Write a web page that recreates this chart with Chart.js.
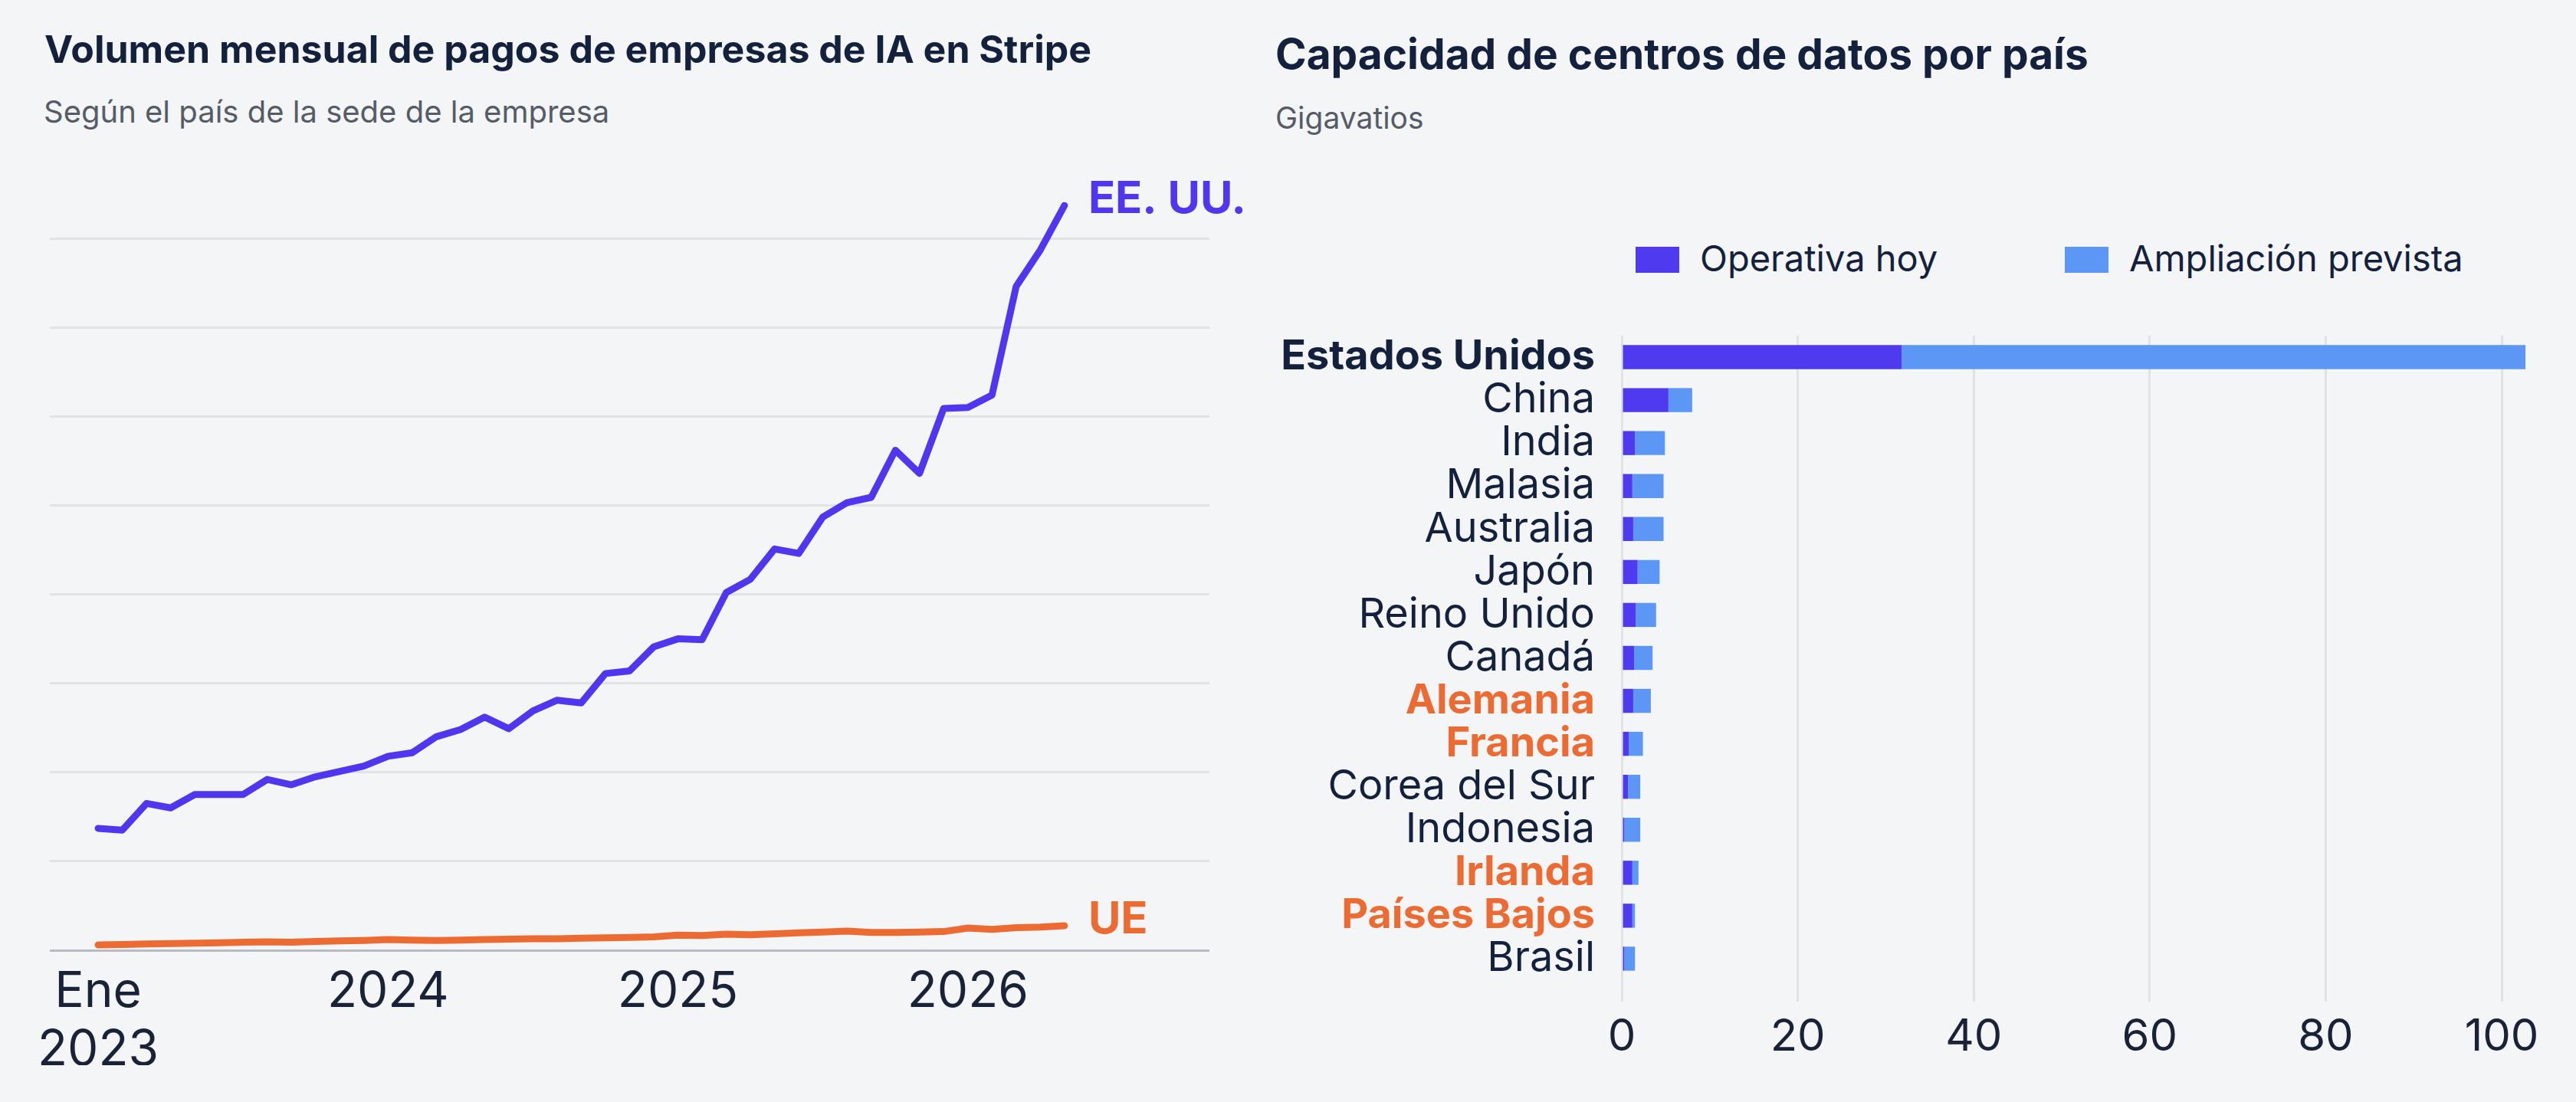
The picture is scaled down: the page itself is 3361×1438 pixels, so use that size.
<!DOCTYPE html>
<html lang="es">
<head>
<meta charset="utf-8">
<script src="https://cdn.jsdelivr.net/npm/chart.js@4.4.1/dist/chart.umd.min.js"></script>
<style>
  html, body { margin: 0; padding: 0; background: #f4f5f7; }
  body { width: 3361px; height: 1438px; position: relative; overflow: hidden; font-family: Inter, "Noto Sans", sans-serif; }
  .t { position: absolute; white-space: nowrap; line-height: 1; }
  .titulo { font-weight: 700; color: #14213d; }
  .sub { color: #565c66; }
  .caja { position: absolute; width: 57px; height: 34px; }
  canvas { position: absolute; top: 0; }
</style>
</head>
<body>
<div class="t titulo" style="left:58px; top:39px; font-size:50px;">Volumen mensual de pagos de empresas de IA en Stripe</div>
<div class="t sub" style="left:57px; top:126px; font-size:40px;">Según el país de la sede de la empresa</div>

<div class="t titulo" style="left:1664px; top:43px; font-size:55px;">Capacidad de centros de datos por país</div>
<div class="t sub" style="left:1664px; top:134px; font-size:39px;">Gigavatios</div>

<div id="leyenda"></div>

<canvas id="lineas" width="1640" height="1438" style="left:0;"></canvas>
<canvas id="barras" width="1721" height="1438" style="left:1640px;"></canvas>

<script>
// ---- grafico de la izquierda: volumen mensual (Ene 2023 - May 2026) ----
const etiquetasEje = [['Ene', '2023'], '2024', '2025', '2026'];
const posicionesEje = [0, 12, 24, 36];

const volumenEEUU = [
  1.37, 1.35, 1.65, 1.60, 1.75, 1.75, 1.75, 1.92, 1.86, 1.95, 2.01, 2.07,
  2.18, 2.22, 2.40, 2.48, 2.62, 2.49, 2.69, 2.81, 2.78, 3.11, 3.14, 3.41,
  3.50, 3.49, 4.02, 4.17, 4.51, 4.46, 4.87, 5.03, 5.09, 5.62, 5.36, 6.09,
  6.10, 6.24, 7.46, 7.87, 8.37
];
const volumenUE = [
  0.06, 0.065, 0.07, 0.075, 0.08, 0.085, 0.09, 0.095, 0.09, 0.10, 0.105, 0.11,
  0.12, 0.115, 0.11, 0.115, 0.12, 0.125, 0.13, 0.13, 0.135, 0.14, 0.145, 0.15,
  0.17, 0.165, 0.18, 0.175, 0.185, 0.195, 0.205, 0.215, 0.20, 0.20, 0.205, 0.21,
  0.25, 0.235, 0.255, 0.26, 0.275
];

// ---- grafico de la derecha: capacidad por pais ----
const paises = ['Estados Unidos', 'China', 'India', 'Malasia', 'Australia', 'Japón', 'Reino Unido',
  'Canadá', 'Alemania', 'Francia', 'Corea del Sur', 'Indonesia', 'Irlanda', 'Países Bajos', 'Brasil'];
const operativaHoy = [31.8, 5.3, 1.5, 1.2, 1.3, 1.8, 1.6, 1.4, 1.3, 0.8, 0.7, 0.3, 1.2, 1.2, 0.3];
const ampliacionPrevista = [70.9, 2.7, 3.4, 3.55, 3.45, 2.5, 2.3, 2.1, 2.0, 1.6, 1.4, 1.8, 0.7, 0.3, 1.2];
const ticksCapacidad = [0, 20, 40, 60, 80, 100];
const nombresSeries = ['Operativa hoy', 'Ampliación prevista'];
const coloresSeries = ['#4f3af0', '#5c97f6'];
const paisesNegrita = ['Estados Unidos'];
const paisesUE = ['Alemania', 'Francia', 'Irlanda', 'Países Bajos'];

const azul = '#5036ee';
const naranja = '#ec6b33';
const textoOscuro = '#14213d';

// nombre al final de cada linea
const etiquetasFinales = {
  id: 'etiquetasFinales',
  afterDatasetsDraw(chart) {
    const ctx = chart.ctx;
    chart.data.datasets.forEach((ds, i) => {
      const meta = chart.getDatasetMeta(i);
      const p = meta.data[meta.data.length - 1];
      ctx.save();
      ctx.font = '700 58px Inter';
      ctx.fillStyle = ds.borderColor;
      ctx.textBaseline = 'middle';
      ctx.fillText(ds.label, p.x + 31, p.y - 8);
      ctx.restore();
    });
  }
};

new Chart(document.getElementById('lineas').getContext('2d'), {
  type: 'line',
  data: {
    datasets: [
      { label: 'EE. UU.', data: volumenEEUU.map((v, i) => ({ x: i, y: v })), borderColor: azul },
      { label: 'UE', data: volumenUE.map((v, i) => ({ x: i, y: v })), borderColor: naranja }
    ]
  },
  options: {
    responsive: false,
    animation: false,
    layout: { padding: { left: 65, right: 62, top: 195, bottom: 48 } },
    elements: {
      line: { borderWidth: 9, tension: 0, borderJoinStyle: 'round', borderCapStyle: 'round' },
      point: { radius: 0 }
    },
    plugins: { legend: { display: false }, tooltip: { enabled: false } },
    scales: {
      x: {
        type: 'linear', min: -2, max: 46,
        afterBuildTicks: s => { s.ticks = posicionesEje.map(v => ({ value: v })); },
        afterFit: s => { s.height = 150; },
        grid: { display: false },
        border: { display: false },
        ticks: {
          autoSkip: false, maxRotation: 0, padding: 8,
          color: '#1a2238', font: { family: 'Inter', size: 64 },
          callback: (v, i) => etiquetasEje[i]
        }
      },
      y: {
        min: 0, max: 9,
        afterBuildTicks: s => { s.ticks = s.ticks.filter(t => t.value <= 8); },
        afterFit: s => { s.width = 0; },
        border: { display: false },
        grid: {
          drawTicks: false, lineWidth: 3,
          color: c => c.tick && c.tick.value === 0 ? '#b8bbc1' : '#e0e2e6'
        },
        ticks: { display: false, stepSize: 1 }
      }
    }
  },
  plugins: [etiquetasFinales]
});

// leyenda en HTML
const leyenda = document.getElementById('leyenda');
const posLeyenda = [2134, 2694];
nombresSeries.forEach((n, i) => {
  const c = document.createElement('div');
  c.className = 'caja';
  c.style.left = posLeyenda[i] + 'px';
  c.style.top = '322px';
  c.style.background = coloresSeries[i];
  leyenda.appendChild(c);
  const t = document.createElement('div');
  t.className = 't';
  t.style.left = (posLeyenda[i] + 84) + 'px';
  t.style.top = '313px';
  t.style.fontSize = '47px';
  t.style.color = textoOscuro;
  t.textContent = n;
  leyenda.appendChild(t);
});

new Chart(document.getElementById('barras').getContext('2d'), {
  type: 'bar',
  data: {
    labels: paises,
    datasets: [
      { label: nombresSeries[0], data: operativaHoy, backgroundColor: coloresSeries[0] },
      { label: nombresSeries[1], data: ampliacionPrevista, backgroundColor: coloresSeries[1] }
    ]
  },
  options: {
    indexAxis: 'y',
    responsive: false,
    animation: false,
    layout: { padding: { left: 0, right: 51, top: 438, bottom: 49 } },
    datasets: { bar: { barPercentage: 0.56, categoryPercentage: 1, borderWidth: 0 } },
    plugins: { legend: { display: false }, tooltip: { enabled: false } },
    scales: {
      x: {
        stacked: true, min: 0, max: 104,
        afterBuildTicks: s => { s.ticks = ticksCapacidad.map(v => ({ value: v })); },
        afterFit: s => { s.height = 110; },
        border: { display: false },
        grid: { color: '#e0e2e6', lineWidth: 3, tickLength: 28 },
        ticks: { autoSkip: false, maxRotation: 0, padding: 12, color: '#1a2238', font: { family: 'Inter', size: 58 } }
      },
      y: {
        stacked: true,
        afterFit: s => { s.width = 476; },
        border: { display: false },
        grid: { display: false, drawTicks: false },
        ticks: {
          autoSkip: false,
          padding: 35,
          color: c => paisesUE.includes(paises[c.index]) ? naranja : textoOscuro,
          font: c => ({
            family: 'Inter', size: 54,
            weight: (paisesUE.includes(paises[c.index]) || paisesNegrita.includes(paises[c.index])) ? '700' : '400'
          })
        }
      }
    }
  }
});
</script>
</body>
</html>
